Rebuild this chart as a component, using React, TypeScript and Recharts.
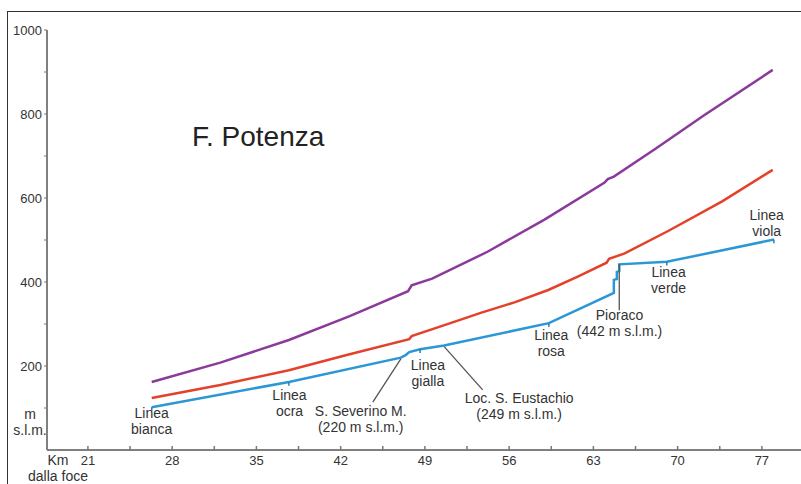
import { LineChart, Line, XAxis, YAxis, ReferenceLine, ReferenceDot } from 'recharts';

const FONT = '"Liberation Sans", Arial, Helvetica, sans-serif';
const TEXT = '#333';

// Km dalla foce / quota (m s.l.m.) for each profile
const violaKm = [26.3, 32, 37.7, 42.7, 47.6, 47.9, 49.6, 54.2, 58.9, 63.9, 64.2, 64.7, 68.1, 72.2, 77.9];
const violaM = [162, 208, 262, 318, 378, 392, 408, 472, 548, 636, 645, 651, 716, 797, 905];

const rossoKm = [26.3, 32, 37.7, 42.5, 47.7, 47.9, 50.5, 53.7, 56.5, 59.25, 61.7, 64.1, 64.3, 65.6, 69.25, 73.7, 77.9];
const rossoM = [124, 155, 190, 226, 264, 271, 296, 327, 352, 381, 413, 446, 455, 468, 522, 592, 667];

const azzurroKm = [26.3, 37.7, 47.0, 47.4, 47.7, 48.6, 50.6, 59.3, 64.7, 64.7, 64.95, 64.95, 65.15, 65.15, 69.1, 78.0];
const azzurroM = [102, 162, 220, 226, 233, 240, 249, 302, 374, 405, 407, 424, 426, 442, 448, 501];

const kmTicks = [21, 24.5, 28, 31.5, 35, 38.5, 42, 45.5, 49, 52.5, 56, 59.5, 63, 66.5, 70, 73.5, 77];
const mTicks = [100, 200, 300, 400, 500, 600, 700, 800, 900, 1000];

// "Linea ..." markers hanging from the blue profile
const lineaKm = [26.3, 37.7, 48.6, 59.3, 69.1, 78.0];
const lineaM = [102, 162, 240, 302, 448, 501];

const zip = (km: number[], m: number[]) => km.map((k, i) => ({ km: k, m: m[i] }));
const viola = zip(violaKm, violaM);
const rosso = zip(rossoKm, rossoM);
const azzurro = zip(azzurroKm, azzurroM);

// text anchors, in km / m, centre of the first line
const labels = [
  { km: 26.3, m: 88, lines: ['Linea', 'bianca'] },
  { km: 37.75, m: 131, lines: ['Linea', 'ocra'] },
  { km: 43.67, m: 93, lines: ['S. Severino M.', '(220 m s.l.m.)'] },
  { km: 49.25, m: 202, lines: ['Linea', 'gialla'] },
  { km: 56.83, m: 124, lines: ['Loc. S. Eustachio', '(249 m s.l.m.)'] },
  { km: 59.5, m: 274, lines: ['Linea', 'rosa'] },
  { km: 65.17, m: 321, lines: ['Pioraco', '(442 m s.l.m.)'] },
  { km: 69.25, m: 424, lines: ['Linea', 'verde'] },
  { km: 77.4, m: 560, lines: ['Linea', 'viola'] },
];

// leader lines from the places to their labels
const pointers = [
  [{ x: 47.0, y: 217 }, { x: 44.67, y: 114 }],
  [{ x: 50.6, y: 246 }, { x: 53.8, y: 143 }],
  [{ x: 65.15, y: 442 }, { x: 65.15, y: 333 }],
];

function KmTick({ x, y, payload }: any) {
  const major = payload.value % 7 === 0;
  return (
    <g>
      <line x1={x} x2={x} y1={y - 4} y2={y + 1} stroke="#777" strokeWidth={1.5} />
      {major && (
        <text x={x} y={y + 15} textAnchor="middle" fontSize={13} fill={TEXT} fontFamily={FONT}>
          {payload.value}
        </text>
      )}
    </g>
  );
}

function MultiLine({ cx, cy, lines }: { cx: number; cy: number; lines: string[] }) {
  return (
    <text textAnchor="middle" fontSize={14} fill={TEXT} fontFamily={FONT}>
      {lines.map((t, i) => (
        <tspan key={i} x={cx} y={cy + i * 16} dy="0.35em">
          {t}
        </tspan>
      ))}
    </text>
  );
}

export default function App() {
  return (
    <div style={{ position: 'absolute', left: 0, top: 0, width: 801, height: 484, background: '#fff', fontFamily: FONT }}>
      <div style={{ position: 'absolute', left: 7, top: 11, right: 0, bottom: 0, borderTop: '1px solid #333', borderLeft: '1px solid #333' }} />
      <LineChart
        width={801}
        height={484}
        margin={{ top: 30, right: 0, bottom: 0, left: 7 }}
        style={{ position: 'absolute', left: 0, top: 0 }}
      >
        <XAxis
          type="number"
          dataKey="km"
          domain={[17.6, 80.25]}
          allowDataOverflow
          ticks={kmTicks}
          interval={0}
          height={34}
          tickSize={0}
          tickMargin={0}
          tickLine={false}
          tick={<KmTick />}
          axisLine={{ stroke: '#808080', strokeWidth: 2 }}
        />
        <YAxis
          type="number"
          domain={[0, 1000]}
          ticks={mTicks}
          interval={0}
          width={40}
          tickSize={3}
          tickMargin={2}
          tickFormatter={(v: number) => (v % 200 === 0 ? String(v) : '')}
          tick={{ fontSize: 13, fill: TEXT, fontFamily: FONT }}
          tickLine={{ stroke: '#777' }}
          axisLine={{ stroke: '#808080', strokeWidth: 2 }}
        />
        <Line data={viola} dataKey="m" type="linear" stroke="#8b3a9c" strokeWidth={2.5} dot={false} isAnimationActive={false} />
        <Line data={rosso} dataKey="m" type="linear" stroke="#e4412b" strokeWidth={2.5} dot={false} isAnimationActive={false} />
        <Line data={azzurro} dataKey="m" type="linear" stroke="#2b97d5" strokeWidth={2.5} dot={false} isAnimationActive={false} />
        {lineaKm.map((k, i) => (
          <ReferenceLine
            key={'t' + i}
            segment={[{ x: k, y: lineaM[i] }, { x: k, y: lineaM[i] - 9 }]}
            stroke="#2b7fb5"
            strokeWidth={1.5}
          />
        ))}
        {pointers.map((s, i) => (
          <ReferenceLine key={'p' + i} segment={s} stroke="#555" strokeWidth={1.3} />
        ))}
        {labels.map((l, i) => (
          <ReferenceDot
            key={'l' + i}
            x={l.km}
            y={l.m}
            r={0}
            shape={(p: any) => <MultiLine cx={p.cx} cy={p.cy} lines={l.lines} />}
          />
        ))}
      </LineChart>
      <div style={{ position: 'absolute', left: 192, top: 120, fontSize: 28, color: '#222', lineHeight: '34px', whiteSpace: 'nowrap' }}>
        F. Potenza
      </div>
      <div style={{ position: 'absolute', left: 8, top: 406, width: 44, textAlign: 'center', fontSize: 14, lineHeight: '16px', color: TEXT }}>
        m<br />s.l.m.
      </div>
      <div style={{ position: 'absolute', left: 22, top: 452, width: 72, textAlign: 'center', fontSize: 14, lineHeight: '16px', color: TEXT, whiteSpace: 'nowrap' }}>
        Km<br />dalla foce
      </div>
    </div>
  );
}
